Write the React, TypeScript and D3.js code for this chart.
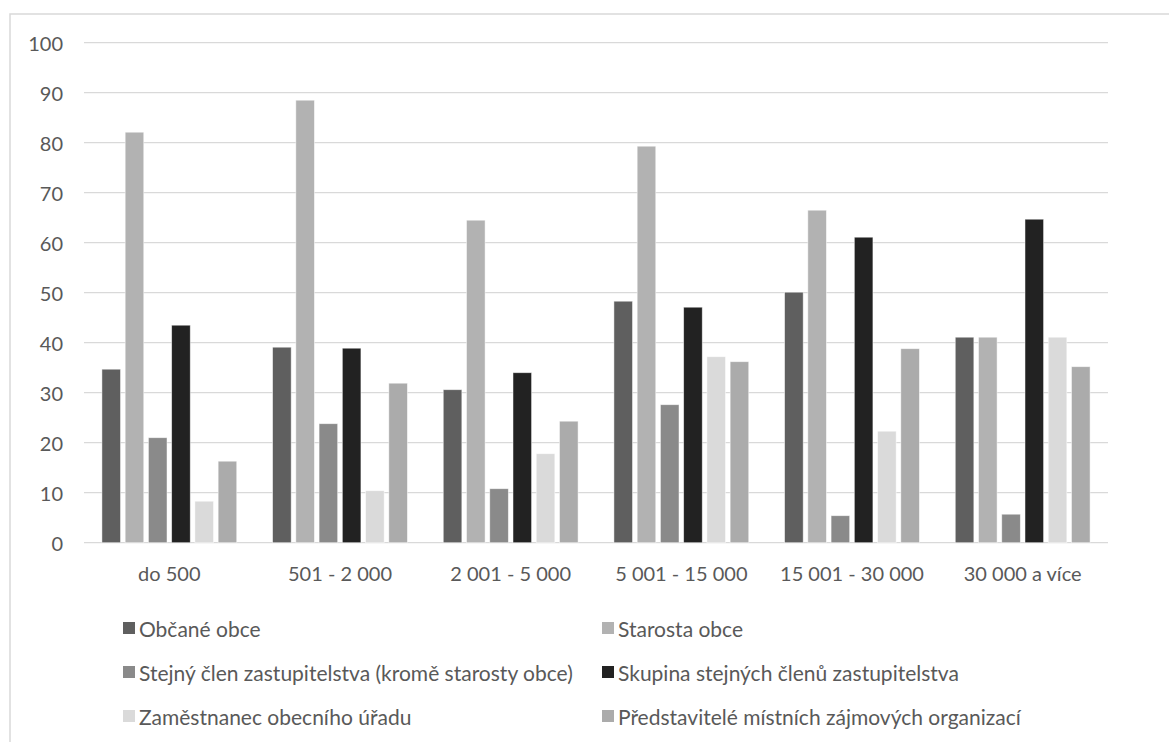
import React from "react";
import * as d3 from "d3";

const categories = ["do 500", "501 - 2 000", "2 001 - 5 000", "5 001 - 15 000", "15 001 - 30 000", "30 000 a více"];
const seriesNames = [
  "Občané obce",
  "Starosta obce",
  "Stejný člen zastupitelstva (kromě starosty obce)",
  "Skupina stejných členů zastupitelstva",
  "Zaměstnanec obecního úřadu",
  "Představitelé místních zájmových organizací",
];
const obcane = [34.7, 39.1, 30.6, 48.3, 50.1, 41.1];
const starosta = [82.1, 88.5, 64.5, 79.3, 66.5, 41.1];
const stejnyClen = [21.0, 23.8, 10.8, 27.6, 5.4, 5.7];
const skupina = [43.5, 38.9, 34.0, 47.1, 61.1, 64.7];
const zamestnanec = [8.3, 10.4, 17.8, 37.2, 22.3, 41.1];
const predstavitele = [16.3, 31.9, 24.3, 36.2, 38.8, 35.2];
const yTicks = [0, 10, 20, 30, 40, 50, 60, 70, 80, 90, 100];

const seriesValues = [obcane, starosta, stejnyClen, skupina, zamestnanec, predstavitele];
const colors = ["#5f5f5f", "#b2b2b2", "#8a8a8a", "#222222", "#dadada", "#ababab"];

const W = 1169;
const H = 742;
const FONT = "Lato, 'Open Sans', sans-serif";
const TEXT = "#595959";
const FS = 20;
const LFS = 21;

export default function App() {
  const left = 84, right = 1108, top = 42.7, bottom = 542.7;
  const x0 = d3.scaleBand<string>().domain(categories).range([left, right]).paddingInner(0).paddingOuter(0);
  const bw = x0.bandwidth();
  const x1 = d3
    .scaleBand<string>()
    .domain(seriesNames)
    .range([bw * 0.105, bw * 0.895])
    .paddingInner(0.2)
    .paddingOuter(0);
  const y = d3.scaleLinear().domain([0, 100]).range([bottom, top]);

  const legendCols = [123, 602];
  const legendRows = [628, 672, 716];

  return (
    <svg width={W} height={H} style={{ position: "absolute", left: 0, top: 0, background: "#fff" }}>
      <rect x={10} y={14} width={1300} height={900} fill="#fff" stroke="#d9d9d9" strokeWidth={1.5} />
      {yTicks.map((t) => (
        <g key={t}>
          <line x1={left} x2={right} y1={y(t)} y2={y(t)} stroke="#d9d9d9" strokeWidth={1.2} />
          <text x={63} y={y(t)} textAnchor="end" dominantBaseline="central" fontFamily={FONT} fontSize={FS} fill={TEXT}>
            {t}
          </text>
        </g>
      ))}
      {categories.map((c, ci) => (
        <g key={c} transform={`translate(${x0(c)},0)`}>
          {seriesNames.map((s, si) => {
            const v = seriesValues[si][ci];
            return (
              <rect
                key={s}
                x={x1(s)}
                y={y(v)}
                width={x1.bandwidth()}
                height={y(0) - y(v)}
                fill={colors[si]}
                stroke="#ffffff"
                strokeOpacity={0.6}
                strokeWidth={0.8}
              />
            );
          })}
          <text x={bw / 2} y={573} textAnchor="middle" dominantBaseline="central" fontFamily={FONT} fontSize={FS} fill={TEXT}>
            {c}
          </text>
        </g>
      ))}
      {seriesNames.map((s, si) => {
        const col = si % 2;
        const row = Math.floor(si / 2);
        const lx = legendCols[col];
        const ly = legendRows[row];
        return (
          <g key={s}>
            <rect x={lx} y={ly - 6} width={12} height={12} fill={colors[si]} />
            <text x={lx + 16} y={ly} dominantBaseline="central" fontFamily={FONT} fontSize={LFS} fill={TEXT}>
              {s}
            </text>
          </g>
        );
      })}
    </svg>
  );
}
